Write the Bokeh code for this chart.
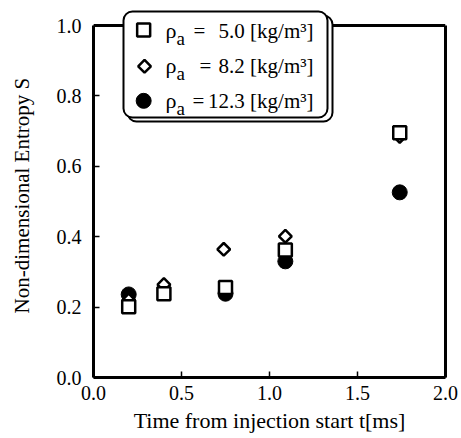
import math
from bokeh.plotting import figure
from bokeh.models import (FixedTicker, NumeralTickFormatter, Range1d, BoxAnnotation, Label,
                          Span, LinearAxis)
from bokeh.embed import file_html
from bokeh.resources import INLINE

# data
t_5 = [0.20, 0.40, 0.75, 1.09, 1.74]
s_5 = [0.201, 0.238, 0.256, 0.362, 0.695]
t_8 = [0.20, 0.40, 0.74, 1.09, 1.74]
s_8 = [0.220, 0.264, 0.364, 0.401, 0.685]
t_12 = [0.20, 0.75, 1.09, 1.74]
s_12 = [0.236, 0.238, 0.330, 0.526]
rho_values = ["5.0", "8.2", "12.3"]
unit_text = "[kg/m\u00b3]"
x_ticks = [0.0, 0.5, 1.0, 1.5, 2.0]
y_ticks = [0.0, 0.2, 0.4, 0.6, 0.8, 1.0]

FONT = "Liberation Serif"

# frame: left 93, right 445, top 8, bottom 377 (canvas px); 1.0 sits at 25 px
p = figure(width=461, height=438, output_backend="svg", toolbar_location=None,
           x_range=Range1d(0, 2), y_range=Range1d(0, 1.0483),
           min_border_left=93, min_border_right=16, min_border_top=8, min_border_bottom=61)
p.grid.visible = False
p.outline_line_color = None
p.background_fill_color = "white"

r12 = p.scatter(t_12, s_12, marker="circle", size=15, fill_color="black", line_color="black")
r8 = p.scatter(t_8, s_8, marker="square", angle=math.pi / 4, size=9, fill_color="white",
               line_color="black", line_width=2.5)
r5 = p.scatter(t_5, s_5, marker="square", size=13, fill_color="white", line_color="black", line_width=2.5)

for ax in (p.xaxis[0], p.yaxis[0]):
    ax.axis_line_width = 3
    ax.axis_line_color = "black"
    ax.major_tick_in = 6
    ax.major_tick_out = 0
    ax.minor_tick_in = 0
    ax.minor_tick_out = 0
    ax.major_tick_line_width = 1.5
    ax.major_tick_line_color = "black"
    ax.major_label_text_font = FONT
    ax.major_label_text_font_size = "20px"
    ax.major_label_text_color = "black"
    ax.axis_label_text_font = FONT
    ax.axis_label_text_font_style = "normal"
    ax.axis_label_text_color = "black"
    ax.formatter = NumeralTickFormatter(format="0.0")

p.xaxis.ticker = FixedTicker(ticks=x_ticks)
p.yaxis.ticker = FixedTicker(ticks=y_ticks)
p.yaxis.bounds = (0, 1)
p.xaxis.axis_label = "Time from injection start t[ms]"
p.yaxis.axis_label = "Non-dimensional Entropy  S"
p.xaxis.axis_label_text_font_size = "22px"
p.yaxis.axis_label_text_font_size = "21px"
p.xaxis.major_label_standoff = 8
p.yaxis.major_label_standoff = 12
p.xaxis.axis_label_standoff = 5
p.yaxis.axis_label_standoff = 20

# right edge of the frame
right_axis = LinearAxis(bounds=(0, 1), ticker=FixedTicker(ticks=[]), axis_line_width=3,
                        axis_line_color="black", major_tick_in=0, major_tick_out=0,
                        minor_tick_in=0, minor_tick_out=0, major_label_text_font_size="0px")
p.add_layout(right_axis, "right")
# top edge of the frame at y = 1.0
p.add_layout(Span(location=1.0, dimension="width", line_color="black", line_width=3))

# legend (screen units relative to the frame's bottom-left corner)
def sbox(l, r, t, b, **kw):
    box = BoxAnnotation(left=l, right=r, top=t, bottom=b,
                        left_units="screen", right_units="screen",
                        top_units="screen", bottom_units="screen",
                        fill_color="white", fill_alpha=1, line_color="black", line_alpha=1,
                        level="annotation", **kw)
    if "border_radius" in BoxAnnotation.properties():
        box.border_radius = 9
    return box

p.add_layout(sbox(34, 239, 362, 256, line_width=2))   # shadow
p.add_layout(sbox(30, 234, 366, 260, line_width=2))   # box

row_base = [347, 312, 277]
eq_x = [100, 106, 99]
for i in range(3):
    common = dict(x_units="screen", y_units="screen", text_font=FONT, text_color="black",
                  text_baseline="alphabetic")
    p.add_layout(Label(x=72, y=row_base[i], text="\u03c1", text_font_size="22px",
                       text_align="left", **common))
    p.add_layout(Label(x=83, y=row_base[i] - 8, text="a", text_font_size="19px",
                       text_align="left", **common))
    p.add_layout(Label(x=eq_x[i], y=row_base[i], text="=", text_font_size="21px",
                       text_align="left", **common))
    p.add_layout(Label(x=220, y=row_base[i], text=rho_values[i] + " " + unit_text,
                       text_font_size="21px", text_align="right", **common))

# legend symbols, drawn above the legend box
leg_x = [0.285, 0.29, 0.285]
leg_y = [0.987, 0.884, 0.786]
p.scatter(leg_x[0:1], leg_y[0:1], marker="square", size=13, fill_color="white",
          line_color="black", line_width=2.5, level="overlay")
p.scatter(leg_x[1:2], leg_y[1:2], marker="square", angle=math.pi / 4, size=9, fill_color="white",
          line_color="black", line_width=2.5, level="overlay")
p.scatter(leg_x[2:3], leg_y[2:3], marker="circle", size=15, fill_color="black",
          line_color="black", level="overlay")

open("out.html", "w").write(file_html(p, INLINE))
